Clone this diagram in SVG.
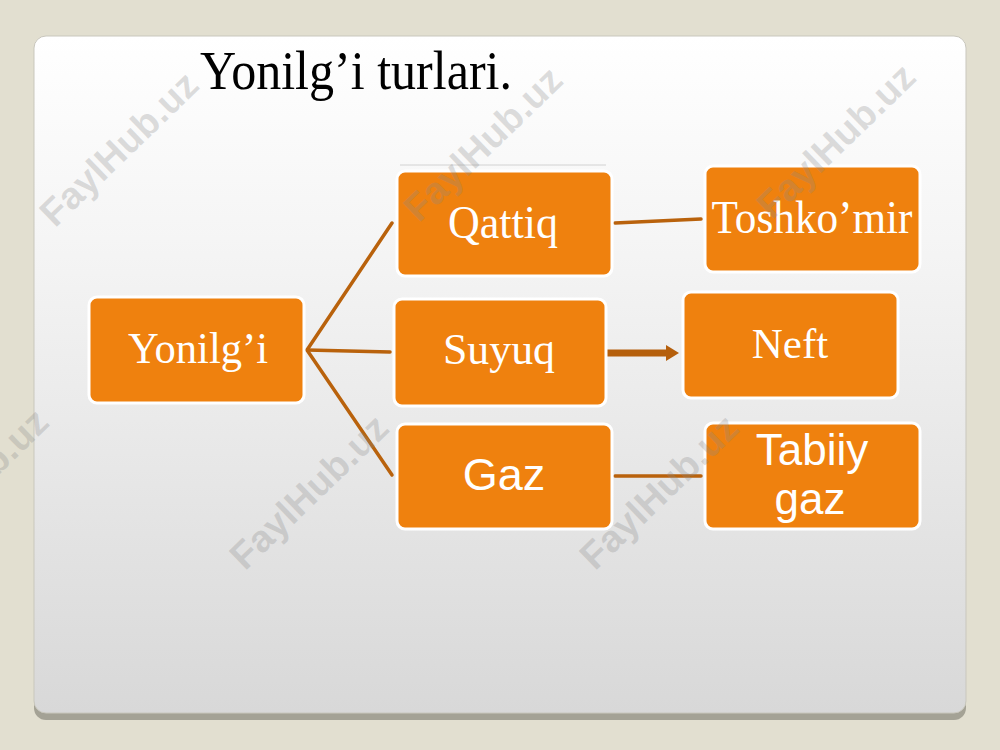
<svg xmlns="http://www.w3.org/2000/svg" width="1000" height="750" viewBox="0 0 1000 750">
  <defs>
    <linearGradient id="panelGrad" x1="0" y1="0" x2="0" y2="1">
      <stop offset="0" stop-color="#ffffff"/>
      <stop offset="0.3" stop-color="#f5f5f5"/>
      <stop offset="1" stop-color="#d8d8d8"/>
    </linearGradient>
    <marker id="arrowHead" markerWidth="13" markerHeight="16" refX="2" refY="8" orient="auto" markerUnits="userSpaceOnUse" viewBox="0 0 13 16">
      <path d="M0,0 L13,8 L0,16 Z" fill="#b55f0c"/>
    </marker>
    <style>
      .box { fill: #ef810e; stroke: #ffffff; stroke-width: 3; }
      .serif { font-family: "Liberation Serif", "Times New Roman", serif; fill: #ffffff; text-anchor: middle; }
      .sans { font-family: "Liberation Sans", Arial, sans-serif; fill: #ffffff; text-anchor: middle; }
      .conn { stroke: #b9620c; stroke-width: 3.5; fill: none; stroke-linecap: round; }
      .wm { font-family: "Liberation Sans", Arial, sans-serif; font-weight: bold; font-size: 38px; fill: #8a8a8a; fill-opacity: 0.28; text-anchor: middle; }
    </style>
  </defs>

  <!-- background -->
  <rect x="0" y="0" width="1000" height="750" fill="#e2dfd0"/>
  <rect x="34" y="43" width="932" height="677" rx="12" fill="#a4a295"/>
  <rect x="34" y="36" width="932" height="677" rx="12" fill="url(#panelGrad)" stroke="#c9c7bd" stroke-width="1"/>

  <!-- title -->
  <text x="200" y="89" font-family="Liberation Serif, 'Times New Roman', serif" font-size="55" fill="#000000" textLength="312" lengthAdjust="spacingAndGlyphs">Yonilg’i turlari.</text>

  <!-- connectors -->
  <g id="connectors">
    <line class="conn" x1="307" y1="350" x2="392" y2="223"/>
    <line class="conn" x1="307" y1="350" x2="390" y2="352"/>
    <line class="conn" x1="307" y1="350" x2="392" y2="475"/>
    <line class="conn" x1="615" y1="223" x2="701" y2="219"/>
    <line class="conn" x1="615" y1="476" x2="701" y2="476"/>
    <line x1="599" y1="353" x2="668" y2="353" stroke="#b55f0c" stroke-width="7" marker-end="url(#arrowHead)"/>
  </g>

  <!-- nodes -->
  <g id="node-yonilgi">
    <rect class="box" x="89" y="297" width="215" height="106" rx="8"/>
    <text class="serif" x="198" y="363" font-size="44" textLength="140" lengthAdjust="spacingAndGlyphs">Yonilg’i</text>
  </g>
  <g id="node-qattiq">
    <line x1="400" y1="165" x2="606" y2="165" stroke="#d2d2d2" stroke-width="1"/>
    <rect class="box" x="397" y="171" width="215" height="105" rx="8"/>
    <text class="serif" x="503" y="238" font-size="46" textLength="110" lengthAdjust="spacingAndGlyphs">Qattiq</text>
  </g>
  <g id="node-suyuq">
    <rect class="box" x="394" y="299" width="212" height="107" rx="8"/>
    <text class="serif" x="499" y="364" font-size="45" textLength="112" lengthAdjust="spacingAndGlyphs">Suyuq</text>
  </g>
  <g id="node-gaz">
    <rect class="box" x="397" y="424" width="215" height="105" rx="8"/>
    <text class="sans" x="504" y="490" font-size="45">Gaz</text>
  </g>
  <g id="node-toshkomir">
    <rect class="box" x="705" y="166" width="215" height="106" rx="8"/>
    <text class="serif" x="812" y="233" font-size="46" textLength="201" lengthAdjust="spacingAndGlyphs">Toshko’mir</text>
  </g>
  <g id="node-neft">
    <rect class="box" x="683" y="292" width="215" height="106" rx="8"/>
    <text class="serif" x="790" y="358" font-size="43">Neft</text>
  </g>
  <g id="node-tabiiy-gaz">
    <rect class="box" x="705" y="423" width="215" height="106" rx="8"/>
    <text class="sans" x="812" y="465" font-size="44">Tabiiy</text>
    <text class="sans" x="810" y="514" font-size="44">gaz</text>
  </g>

  <!-- watermarks -->
  <g id="watermarks">
    <text class="wm" transform="translate(128,158) rotate(-44)">FaylHub.uz</text>
    <text class="wm" transform="translate(492,153) rotate(-44)">FaylHub.uz</text>
    <text class="wm" transform="translate(845,150) rotate(-44)">FaylHub.uz</text>
    <text class="wm" transform="translate(-22,495) rotate(-44)">FaylHub.uz</text>
    <text class="wm" transform="translate(318,501) rotate(-44)">FaylHub.uz</text>
    <text class="wm" transform="translate(668,501) rotate(-44)">FaylHub.uz</text>
  </g>
</svg>
